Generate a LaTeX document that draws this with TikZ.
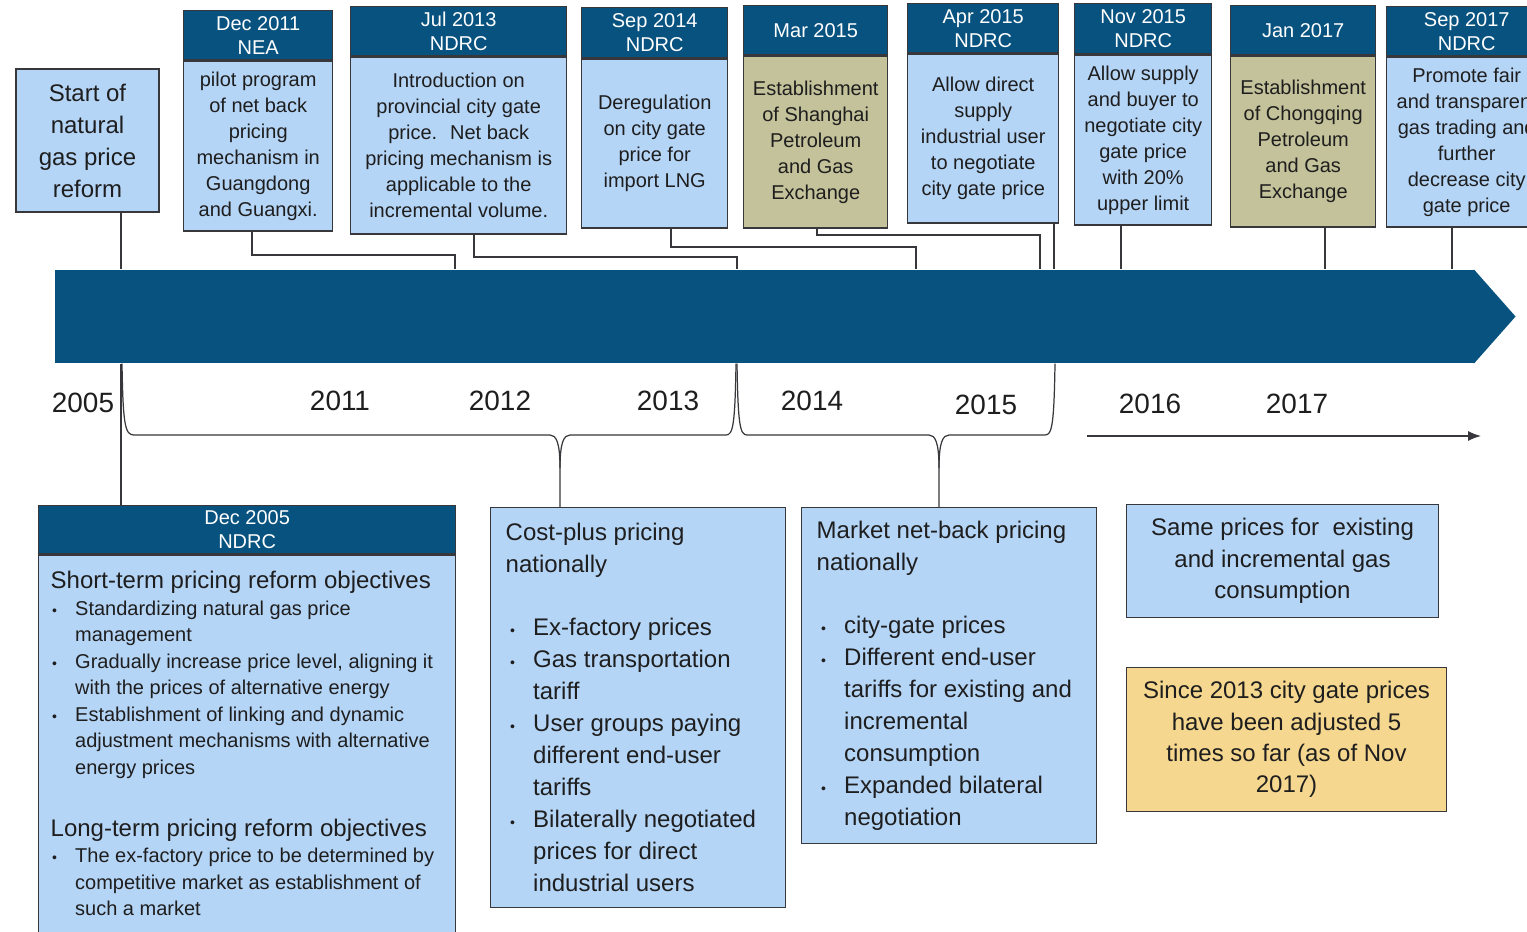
\documentclass[tikz,border=0pt]{standalone}
\usepackage{fontspec}
\setmainfont{Liberation Sans}
\usetikzlibrary{arrows.meta}

\definecolor{navy}{RGB}{8,82,128}
\definecolor{paleblue}{RGB}{181,213,247}
\definecolor{khaki}{RGB}{196,194,154}
\definecolor{sand}{RGB}{245,215,143}
\definecolor{ink}{RGB}{30,30,30}
\definecolor{wire}{RGB}{55,55,60}

\newcommand{\px}{0.02}
\newcommand{\event}[9]{%
    \pgfmathsetmacro{\boxw}{#4*\px}%
    \pgfmathsetmacro{\headh}{#5*\px}%
    \pgfmathsetmacro{\bodyh}{(#6-#5)*\px}%
    \node[headbox, minimum width=\boxw cm, minimum height=\headh cm] (#1h) at (#2,#3) {#8};%
    \node[eventbox, #7, minimum width=\boxw cm, minimum height=\bodyh cm] (#1) at (#1h.south) {#9};%
}
\newcommand{\bul}[1]{\par\hangindent=0.55cm\hangafter=1\noindent\makebox[0.55cm][l]{\hspace{0.09cm}{\footnotesize\textbullet}}#1\par}
\newcommand{\plainspaces}{\spaceskip=0pt\xspaceskip=0pt\relax}

\begin{document}
\begin{tikzpicture}[x=0.02cm, y=-0.02cm, line width=0.8pt,
    headbox/.style={fill=navy, draw=wire, text=white, anchor=north west, inner sep=0pt,
        align=center, font=\fontsize{11.38}{13.66}\selectfont},
    eventbox/.style={fill=paleblue, draw=wire, text=ink, anchor=north, inner sep=0pt,
        align=center, font=\fontsize{11.38}{14.8}\selectfont},
    notebox/.style={fill=paleblue, draw=wire, text=ink, align=center,
        font=\fontsize{13.66}{17.8}\selectfont},
    listbox/.style={notebox, anchor=north west, align=left, text width=5.3cm,
        inner xsep=0.3cm, font=\fontsize{13.66}{18.2}\selectfont},
    band/.style={fill=navy, draw=none, inner sep=0pt},
    year/.style={text=ink, font=\fontsize{15.9}{18}\selectfont},
    wire/.style={draw=wire, line width=0.7pt}]

    \useasboundingbox (0,0) rectangle (1527,931);
    \clip (0,0) rectangle (1527,931);

    % Timeline band
    \node[band, minimum width=28.4cm, minimum height=1.86cm] (band) at (765,316.5) {};
    \fill[navy] ([xshift=-1pt]band.north east) -- ([xshift=0.8cm]band.east) -- ([xshift=-1pt]band.south east) -- cycle;

    % --- Top row: events ---
    \node[notebox, minimum width=2.86cm, minimum height=2.86cm, inner sep=0pt,
        font=\fontsize{13.66}{18.2}\selectfont] (start) at (87.5,140.5) {Start of\\natural\\gas price\\reform};
    \event{dec11}{183}{10}{149}{49}{219}{}{Dec 2011\\NEA}{pilot program\\of net back\\pricing\\mechanism in\\Guangdong\\and Guangxi.}
    \event{jul13}{350}{6}{216}{49}{226}{}{Jul 2013\\NDRC}{Introduction on\\provincial city gate\\price.~ Net back\\pricing mechanism is\\applicable to the\\incremental volume.}
    \event{sep14}{581}{7}{146}{50}{219}{}{Sep 2014\\NDRC}{Deregulation\\on city gate\\price for\\import LNG}
    \event{mar15}{743}{5}{144}{49}{221}{fill=khaki}{Mar 2015}{Establishment\\of Shanghai\\Petroleum\\and Gas\\Exchange}
    \event{apr15}{907}{3}{151}{49}{218}{}{Apr 2015\\NDRC}{Allow direct\\supply\\industrial user\\to negotiate\\city gate price}
    \event{nov15}{1074}{3}{137}{50}{220}{}{Nov 2015\\NDRC}{Allow supply\\and buyer to\\negotiate city\\gate price\\with 20\%\\upper limit}
    \event{jan17}{1230}{5}{145}{49}{220}{fill=khaki}{Jan 2017}{Establishment\\of Chongqing\\Petroleum\\and Gas\\Exchange}
    \event{sep17}{1386}{6}{160}{49}{219}{}{Sep 2017\\NDRC}{Promote fair\\and transparent\\gas trading and\\further\\decrease city\\gate price}

    % --- Connectors into the band ---
    \draw[wire] (start.south -| 121,0) -- (band.north -| 121,0);
    \draw[wire] (dec11.south -| 252,0) |- (455,255) -- (band.north -| 455,0);
    \draw[wire] (jul13.south -| 474,0) |- (737,257) -- (band.north -| 737,0);
    \draw[wire] (sep14.south -| 671,0) |- (916,247) -- (band.north -| 916,0);
    \draw[wire] (mar15.south -| 817,0) |- (1040,235) -- (band.north -| 1040,0);
    \draw[wire] (apr15.south -| 1054,0) -- (band.north -| 1054,0);
    \draw[wire] (nov15.south -| 1121,0) -- (band.north -| 1121,0);
    \draw[wire] (jan17.south -| 1325,0) -- (band.north -| 1325,0);
    \draw[wire] (sep17.south -| 1452,0) -- (band.north -| 1452,0);

    % Years
    \foreach \yr/\xx/\yy in {2005/83/403, 2011/340/401, 2012/500/401, 2013/668/401,
        2014/812/401, 2015/986/405, 2016/1150/404, 2017/1297/404}
        \node[year] (yr\yr) at (\xx,\yy) {\yr};

    % --- Bottom row: pricing phases ---
    \node[headbox, minimum width=8.34cm, minimum height=0.96cm] (dec05h) at (38,505) {Dec 2005\\NDRC};
    \node[notebox, anchor=north, align=left, text width=7.98cm, inner xsep=0.18cm, inner ysep=0.32cm] (dec05) at (dec05h.south) {%
        \plainspaces
        \hspace*{0.06cm}{\fontsize{13.66}{17.6}\selectfont Short-term pricing reform objectives\par}
        \fontsize{11.38}{15.1}\selectfont
        \bul{Standardizing natural gas price\newline management}
        \bul{Gradually increase price level, aligning it\newline with the prices of alternative energy}
        \bul{Establishment of linking and dynamic\newline adjustment mechanisms with alternative\newline energy prices}
        \vspace{0.62cm}
        \hspace*{0.06cm}{\fontsize{13.66}{17.6}\selectfont Long-term pricing reform objectives\par}
        \bul{The ex-factory price to be determined by\newline competitive market as establishment of\newline such a market}
        \rule{0pt}{0.6cm}};

    \node[listbox, minimum height=8cm] (cost) at (490,507) {%
        \plainspaces
        Cost-plus pricing\newline nationally\par\vspace{0.62cm}
        \bul{Ex-factory prices}
        \bul{Gas transportation\newline tariff}
        \bul{User groups paying\newline different end-user\newline tariffs}
        \bul{Bilaterally negotiated\newline prices for direct\newline industrial users}};

    \node[listbox, minimum height=6.72cm] (market) at (801,507) {%
        \plainspaces
        Market net-back pricing\newline nationally\par\vspace{0.62cm}
        \bul{city-gate prices}
        \bul{Different end-user\newline tariffs for existing and\newline incremental\newline consumption}
        \bul{Expanded bilateral\newline negotiation}};

    \node[notebox, minimum width=6.24cm, minimum height=2.26cm] (same) at (1282.5,561) {Same prices for~ existing\\and incremental gas\\consumption};
    \node[notebox, fill=sand, minimum width=6.4cm, minimum height=2.88cm] (since) at (1286.5,739.5) {Since 2013 city gate prices\\have been adjusted 5\\times so far (as of Nov\\2017)};

    % --- Links and braces below the band ---
    \draw[wire] (band.south -| 121,0) -- (dec05h.north -| 121,0);
    \draw[wire] (band.south -| 122,0) .. controls (123,425) and (125,435) .. (134,435) -- (550,435)
        .. controls (556,435) and (560,442) .. (560,468) -- (cost.north -| 560,0);
    \draw[wire] (band.south -| 736,0) .. controls (735,425) and (733,435) .. (726,435) -- (570,435)
        .. controls (564,435) and (560,442) .. (560,468);
    \draw[wire] (band.south -| 737,0) .. controls (738,425) and (740,435) .. (747,435) -- (929,435)
        .. controls (935,435) and (939,442) .. (939,468) -- (market.north -| 939,0);
    \draw[wire] (band.south -| 1055,0) .. controls (1054,425) and (1052,435) .. (1045,435) -- (949,435)
        .. controls (943,435) and (939,442) .. (939,468);

    % Open-ended time axis
    \coordinate (axisL) at (1087,436);
    \coordinate (axisR) at (1481,436);
    \draw[wire, -{Latex[length=0.26cm,width=0.2cm]}] (axisL) -- (axisR);

\end{tikzpicture}
\end{document}
